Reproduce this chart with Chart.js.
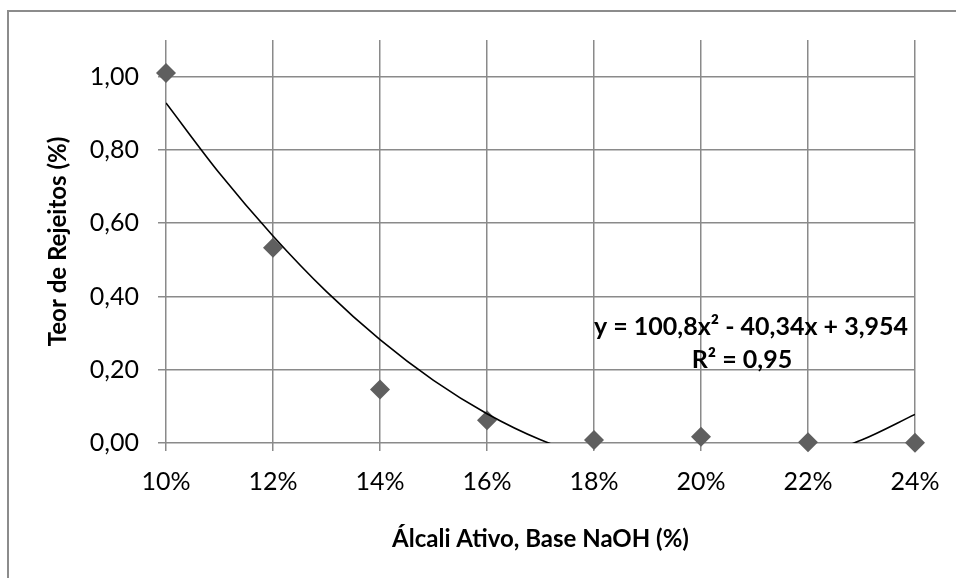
<!DOCTYPE html>
<html>
<head>
<meta charset="utf-8">
<script src="https://cdn.jsdelivr.net/npm/chart.js@4"></script>
<style>
  html, body { margin: 0; padding: 0; background: #fff; }
  #wrap { width: 956px; height: 578px; position: relative; }
</style>
</head>
<body>
<div id="wrap"><canvas id="rejeitos_chart"></canvas></div>
<script>
// dados
const alcali = [0.10, 0.12, 0.14, 0.16, 0.18, 0.20, 0.22, 0.24];
const teor = [1.01, 0.533, 0.146, 0.062, 0.008, 0.017, 0.002, 0.001];

// linha de tendencia (polinomial de ordem 2), valores lidos a cada 1%
const trendX = [0.10, 0.11, 0.12, 0.13, 0.14, 0.15, 0.16, 0.17, 0.18, 0.19, 0.20, 0.21, 0.22, 0.23, 0.24];
const trendY = [0.928, 0.736, 0.565, 0.413, 0.282, 0.171, 0.080, 0.009, -0.041, -0.072, -0.082, -0.072, -0.042, 0.008, 0.078];

const xTickLabels = ["10%", "12%", "14%", "16%", "18%", "20%", "22%", "24%"];
const yTickLabels = ["0,00", "0,20", "0,40", "0,60", "0,80", "1,00"];

const eqText = "y = 100,8x² - 40,34x + 3,954";
const r2Text = "R² = 0,95";

const fontName = "Lato, 'Open Sans', sans-serif";
const gridColor = "#8a8a8a";

function toPoints(xs, ys){
    let pts = [];
    for(let i = 0; i < xs.length; i++){
        pts.push({x: xs[i], y: ys[i]});
    }
    return pts;
}

// moldura externa + equacao da tendencia
const extrasPlugin = {
    id: "extras",
    beforeDraw(chart){
        const ctx = chart.ctx;
        ctx.save();
        ctx.fillStyle = "#fff";
        ctx.fillRect(0, 0, chart.width, chart.height);
        ctx.strokeStyle = "#8c8c8c";
        ctx.lineWidth = 2;
        ctx.beginPath();
        ctx.moveTo(8, chart.height);
        ctx.lineTo(8, 11);
        ctx.lineTo(chart.width, 11);
        ctx.stroke();
        ctx.restore();
    },
    afterDatasetsDraw(chart){
        const ctx = chart.ctx;
        ctx.save();
        ctx.fillStyle = "#000";
        ctx.font = "bold 25px " + fontName;
        ctx.textAlign = "center";
        ctx.textBaseline = "middle";
        ctx.fillText(eqText, 751, 327);
        ctx.fillText(r2Text, 742, 360);
        ctx.restore();
    }
};

function createChart(){
    const ctx = document.getElementById("rejeitos_chart");
    const data = {
        datasets: [{
            label: "Tendência",
            type: "line",
            data: toPoints(trendX, trendY),
            borderColor: "#000",
            borderWidth: 1.6,
            pointRadius: 0,
            pointHoverRadius: 0,
            fill: false,
            cubicInterpolationMode: "monotone",
            clip: 0
        }, {
            label: "Teor de Rejeitos",
            data: toPoints(alcali, teor),
            pointStyle: "rectRot",
            pointRadius: 10,
            pointHoverRadius: 10,
            backgroundColor: "#5f5f5f",
            borderColor: "#5f5f5f",
            borderWidth: 0,
            clip: false
        }]
    };

    const config = {
        type: "scatter",
        data: data,
        plugins: [extrasPlugin],
        options: {
            responsive: true,
            maintainAspectRatio: false,
            animation: false,
            layout: {
                padding: { left: 44, right: 41, top: 40, bottom: 20 }
            },
            plugins: {
                legend: { display: false },
                tooltip: { enabled: false }
            },
            scales: {
                x: {
                    type: "linear",
                    min: 0.10,
                    max: 0.24,
                    afterFit: function(scale){ scale.height = 578 - 20 - 443; },
                    ticks: {
                        stepSize: 0.02,
                        color: "#000",
                        padding: 16,
                        font: { family: fontName, size: 25 },
                        callback: function(value, index){
                            return xTickLabels[index];
                        }
                    },
                    grid: {
                        color: gridColor,
                        lineWidth: 1.5,
                        tickLength: 8
                    },
                    border: { display: false },
                    title: {
                        display: true,
                        text: "Álcali Ativo, Base NaOH (%)",
                        color: "#000",
                        font: { family: fontName, size: 24, weight: "bold" },
                        padding: { top: 4, bottom: 4 }
                    }
                },
                y: {
                    min: 0,
                    max: 1.1,
                    afterFit: function(scale){ scale.width = 166 - 44; },
                    ticks: {
                        stepSize: 0.2,
                        includeBounds: false,
                        color: "#000",
                        padding: 19,
                        font: { family: fontName, size: 25 },
                        callback: function(value, index){
                            return yTickLabels[index];
                        }
                    },
                    grid: {
                        color: gridColor,
                        lineWidth: 1.5,
                        tickLength: 8
                    },
                    border: { display: false },
                    title: {
                        display: true,
                        text: "Teor de Rejeitos (%)",
                        color: "#000",
                        font: { family: fontName, size: 24, weight: "bold" },
                        padding: { top: 0, bottom: 0 }
                    }
                }
            }
        }
    };

    return new Chart(ctx, config);
}

createChart();
</script>
</body>
</html>
